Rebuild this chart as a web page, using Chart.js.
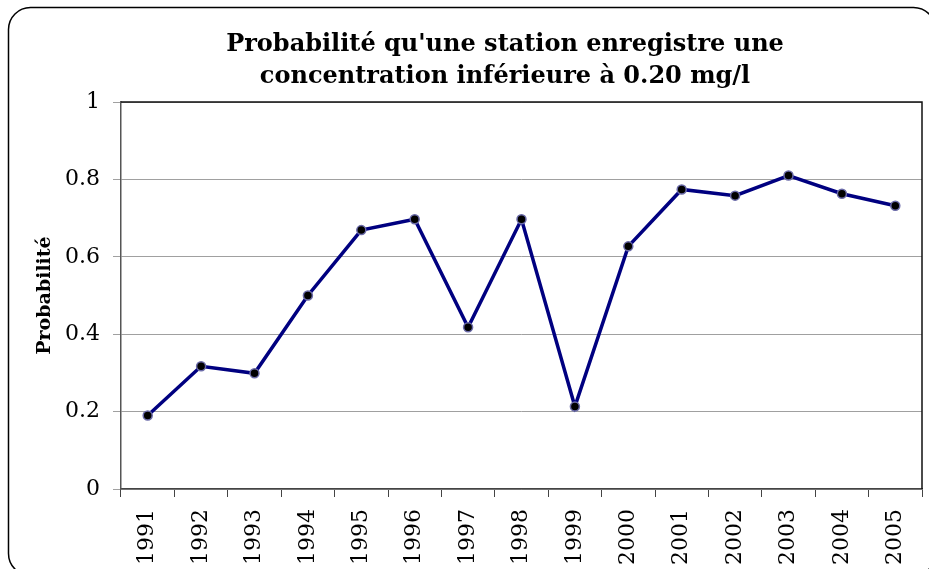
<!DOCTYPE html>
<html>
<head>
<meta charset="utf-8">
<script src="https://cdn.jsdelivr.net/npm/chart.js@4"></script>
<style>
  html, body { margin: 0; padding: 0; background: #fff; overflow: hidden; }
  #wrap { position: relative; width: 929px; height: 569px; }
</style>
</head>
<body>
<div id="wrap"><canvas id="chart" width="929" height="569"></canvas></div>
<script>
const years = ['1991','1992','1993','1994','1995','1996','1997','1998','1999','2000','2001','2002','2003','2004','2005'];
const probabilities = [0.19, 0.317, 0.299, 0.50, 0.669, 0.697, 0.418, 0.697, 0.213, 0.627, 0.774, 0.758, 0.810, 0.763, 0.732];
const yTickLabels = ['0', '0.2', '0.4', '0.6', '0.8', '1'];

const serif = "'DejaVu Serif', serif";

// outer rounded frame + top/right border of the plot area
const framePlugin = {
  id: 'frame',
  afterLayout(chart) {
    // shift title center to the right like the original
    chart.titleBlock.left = 88;
  },
  beforeDraw(chart) {
    const c = chart.ctx;
    c.save();
    c.strokeStyle = '#000';
    c.lineWidth = 1.5;
    c.beginPath();
    c.roundRect(8.5, 7.5, 927, 568, 22);
    c.stroke();
    c.restore();
  },
  afterDatasetsDraw(chart) {
    const a = chart.chartArea;
    const c = chart.ctx;
    c.save();
    c.strokeStyle = '#111';
    c.lineWidth = 1.5;
    c.beginPath();
    c.moveTo(a.left, a.top);
    c.lineTo(a.right, a.top);
    c.lineTo(a.right, a.bottom);
    c.stroke();
    c.restore();
  }
};

new Chart(document.getElementById('chart'), {
  type: 'line',
  data: {
    labels: years,
    datasets: [{
      label: 'Probabilité',
      data: probabilities,
      borderColor: '#000080',
      borderWidth: 3.5,
      pointRadius: 4.5,
      pointBackgroundColor: '#000',
      pointBorderColor: '#6a6aa8',
      pointBorderWidth: 1.5,
      tension: 0
    }]
  },
  options: {
    responsive: false,
    animation: false,
    layout: { padding: { left: 0, right: 7, top: 0, bottom: 0 } },
    plugins: {
      legend: { display: false },
      tooltip: { enabled: false },
      title: {
        display: true,
        text: ["Probabilité qu'une station enregistre une", 'concentration inférieure à 0.20 mg/l'],
        color: '#000',
        font: { family: serif, size: 24, weight: 'bold', lineHeight: '32px' },
        padding: { top: 29, bottom: 9 }
      }
    },
    scales: {
      x: {
        offset: true,
        afterFit(scale) {
          scale.height = 80;
          scale.paddingLeft = 0;
          scale.paddingRight = 0;
        },
        grid: {
          offset: true,
          drawOnChartArea: false,
          drawTicks: true,
          tickLength: 8,
          color: '#444'
        },
        border: { color: '#444', width: 1.5 },
        ticks: {
          color: '#000',
          font: { family: serif, size: 22 },
          minRotation: 90,
          maxRotation: 90,
          padding: 12,
          autoSkip: false
        }
      },
      y: {
        min: 0,
        max: 1,
        afterFit(scale) { scale.width = 121; },
        grid: { color: '#a0a0a0', lineWidth: 1, tickLength: 8 },
        border: { color: '#555', width: 1.5 },
        title: {
          display: true,
          text: 'Probabilité',
          color: '#000',
          font: { family: serif, size: 19, weight: 'bold' },
          padding: { top: 34, bottom: 0 }
        },
        ticks: {
          stepSize: 0.2,
          color: '#000',
          font: { family: serif, size: 22 },
          padding: 13,
          callback: (v, i) => yTickLabels[i]
        }
      }
    }
  },
  plugins: [framePlugin]
});
</script>
</body>
</html>
